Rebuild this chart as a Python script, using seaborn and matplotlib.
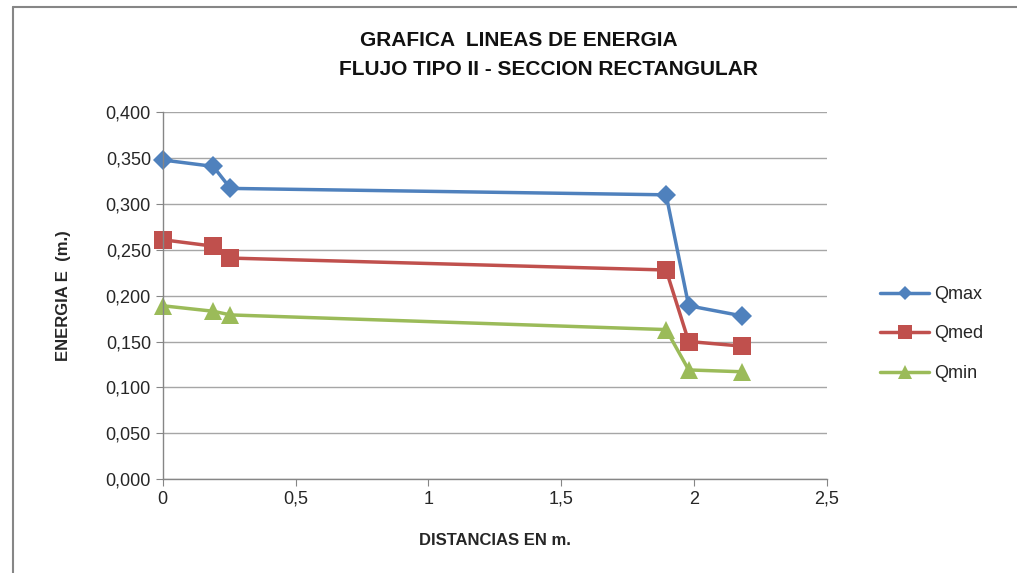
import pandas as pd
import numpy as np
import matplotlib.pyplot as plt
import seaborn as sns
from matplotlib.ticker import FuncFormatter, MultipleLocator
from matplotlib.lines import Line2D

sns.set_style("white")
plt.rcParams['font.family'] = ['Liberation Sans', 'DejaVu Sans']

# distances (m.)
distancias = [0.0, 0.19, 0.255, 1.895, 1.98, 2.18]
qmax = [0.348, 0.341, 0.317, 0.310, 0.189, 0.178]
qmed = [0.261, 0.254, 0.241, 0.228, 0.150, 0.145]
qmin = [0.189, 0.183, 0.179, 0.163, 0.119, 0.117]
series = ['Qmax', 'Qmed', 'Qmin']

df = pd.DataFrame({
    'x': distancias * 3,
    'E': qmax + qmed + qmin,
    'serie': [s for s in series for _ in distancias],
})

colors = {'Qmax': '#4F81BD', 'Qmed': '#C0504D', 'Qmin': '#9BBB59'}
markers = {'Qmax': 'D', 'Qmed': 's', 'Qmin': '^'}
msizes = {'Qmax': 10, 'Qmed': 13, 'Qmin': 13}

fig = plt.figure(figsize=(10.17, 5.73), dpi=100)
ax = fig.add_axes([0.160, 0.164, 0.653, 0.640])

for s in series:
    sub = df[df['serie'] == s]
    sns.lineplot(data=sub, x='x', y='E', color=colors[s], marker=markers[s],
                 markersize=msizes[s], markeredgewidth=0, linewidth=2.5,
                 sort=False, label=s, clip_on=False, ax=ax)

ax.set_xlim(0, 2.5)
ax.set_ylim(0, 0.4)
ax.xaxis.set_major_locator(MultipleLocator(0.5))
ax.yaxis.set_major_locator(MultipleLocator(0.05))
ax.yaxis.set_major_formatter(FuncFormatter(lambda v, p: f"{v:.3f}".replace('.', ',')))
ax.xaxis.set_major_formatter(FuncFormatter(lambda v, p: f"{v:g}".replace('.', ',')))
ax.tick_params(axis='both', labelsize=13, length=5, color='#868686', direction='out',
               bottom=True, left=True)
ax.yaxis.grid(True, color='#A6A6A6', linewidth=1)
ax.xaxis.grid(False)
ax.set_axisbelow(True)
for side in ['top', 'right']:
    ax.spines[side].set_visible(False)
for side in ['left', 'bottom']:
    ax.spines[side].set_color('#868686')
    ax.spines[side].set_linewidth(1)

ax.set_xlabel('DISTANCIAS EN m.', fontsize=12, fontweight='bold', labelpad=18)
ax.set_ylabel('ENERGIA E  (m.)', fontsize=12, fontweight='bold', labelpad=25)

# title, two lines as in the original
fig.text(519 / 1017, 1 - 40 / 573, 'GRAFICA  LINEAS DE ENERGIA', ha='center', va='center',
         fontsize=15, fontweight='bold', color='#111111')
fig.text(548 / 1017, 1 - 70 / 573, 'FLUJO TIPO II - SECCION RECTANGULAR', ha='center',
         va='center', fontsize=15, fontweight='bold', color='#111111')

ax.legend(title=None, frameon=False, loc='center left',
          bbox_to_anchor=(864 / 1017, 1 - 334 / 573), bbox_transform=fig.transFigure,
          fontsize=13, handlelength=2.7, labelspacing=1.25, handletextpad=0.3,
          markerscale=0.75)

# chart area border (top and left edges visible in the original)
fig.add_artist(Line2D([13 / 1017, 13 / 1017], [0, 1 - 6.5 / 573], transform=fig.transFigure,
                      color='#868686', linewidth=1.5))
fig.add_artist(Line2D([13 / 1017, 1], [1 - 6.5 / 573, 1 - 6.5 / 573], transform=fig.transFigure,
                      color='#868686', linewidth=1.5))

fig.savefig('out.png', dpi=100)
